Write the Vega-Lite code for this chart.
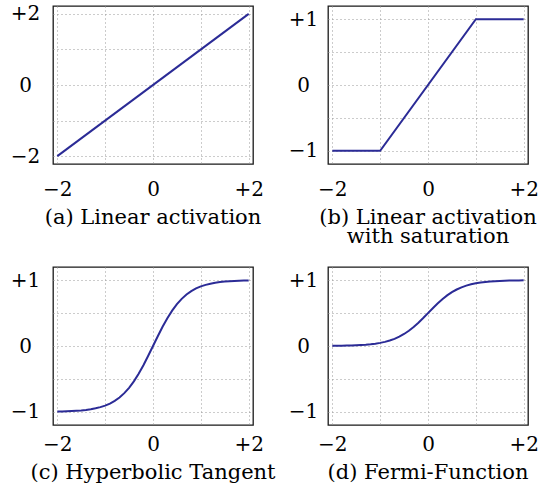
{
  "$schema": "https://vega.github.io/schema/vega-lite/v6.json",
  "padding": {"left": 9, "top": 3, "right": 0, "bottom": 0},
  "background": "white",
  "datasets": {
    "lin": [{"x": -2, "y": -2}, {"x": 2, "y": 2}],
    "sat": [{"x": -2, "y": -1}, {"x": -1, "y": -1}, {"x": 1, "y": 1}, {"x": 2, "y": 1}],
    "tanh": [
      {"x": -2.0, "y": -0.9951}, {"x": -1.9, "y": -0.9933}, {"x": -1.8, "y": -0.9910}, {"x": -1.7, "y": -0.9879},
      {"x": -1.6, "y": -0.9837}, {"x": -1.5, "y": -0.9780}, {"x": -1.4, "y": -0.9705}, {"x": -1.3, "y": -0.9603},
      {"x": -1.2, "y": -0.9468}, {"x": -1.1, "y": -0.9289}, {"x": -1.0, "y": -0.9051}, {"x": -0.9, "y": -0.8741},
      {"x": -0.8, "y": -0.8337}, {"x": -0.7, "y": -0.7818}, {"x": -0.6, "y": -0.7163}, {"x": -0.5, "y": -0.6351},
      {"x": -0.4, "y": -0.5370}, {"x": -0.3, "y": -0.4218}, {"x": -0.2, "y": -0.2913}, {"x": -0.1, "y": -0.1489},
      {"x": 0.0, "y": 0.0},
      {"x": 0.1, "y": 0.1489}, {"x": 0.2, "y": 0.2913}, {"x": 0.3, "y": 0.4218}, {"x": 0.4, "y": 0.5370},
      {"x": 0.5, "y": 0.6351}, {"x": 0.6, "y": 0.7163}, {"x": 0.7, "y": 0.7818}, {"x": 0.8, "y": 0.8337},
      {"x": 0.9, "y": 0.8741}, {"x": 1.0, "y": 0.9051}, {"x": 1.1, "y": 0.9289}, {"x": 1.2, "y": 0.9468},
      {"x": 1.3, "y": 0.9603}, {"x": 1.4, "y": 0.9705}, {"x": 1.5, "y": 0.9780}, {"x": 1.6, "y": 0.9837},
      {"x": 1.7, "y": 0.9879}, {"x": 1.8, "y": 0.9910}, {"x": 1.9, "y": 0.9933}, {"x": 2.0, "y": 0.9951}
    ],
    "fermi": [
      {"x": -2.0, "y": 0.0025}, {"x": -1.9, "y": 0.0033}, {"x": -1.8, "y": 0.0045}, {"x": -1.7, "y": 0.0060},
      {"x": -1.6, "y": 0.0081}, {"x": -1.5, "y": 0.0110}, {"x": -1.4, "y": 0.0147}, {"x": -1.3, "y": 0.0198},
      {"x": -1.2, "y": 0.0266}, {"x": -1.1, "y": 0.0355}, {"x": -1.0, "y": 0.0474}, {"x": -0.9, "y": 0.0630},
      {"x": -0.8, "y": 0.0832}, {"x": -0.7, "y": 0.1091}, {"x": -0.6, "y": 0.1418}, {"x": -0.5, "y": 0.1824},
      {"x": -0.4, "y": 0.2315}, {"x": -0.3, "y": 0.2891}, {"x": -0.2, "y": 0.3543}, {"x": -0.1, "y": 0.4255},
      {"x": 0.0, "y": 0.5},
      {"x": 0.1, "y": 0.5745}, {"x": 0.2, "y": 0.6457}, {"x": 0.3, "y": 0.7109}, {"x": 0.4, "y": 0.7685},
      {"x": 0.5, "y": 0.8176}, {"x": 0.6, "y": 0.8582}, {"x": 0.7, "y": 0.8909}, {"x": 0.8, "y": 0.9168},
      {"x": 0.9, "y": 0.9370}, {"x": 1.0, "y": 0.9526}, {"x": 1.1, "y": 0.9645}, {"x": 1.2, "y": 0.9734},
      {"x": 1.3, "y": 0.9802}, {"x": 1.4, "y": 0.9853}, {"x": 1.5, "y": 0.9890}, {"x": 1.6, "y": 0.9919},
      {"x": 1.7, "y": 0.9940}, {"x": 1.8, "y": 0.9955}, {"x": 1.9, "y": 0.9967}, {"x": 2.0, "y": 0.9975}
    ]
  },
  "columns": 2,
  "bounds": "flush",
  "spacing": {"row": 103, "column": 75},
  "concat": [
    {
      "width": 200, "height": 158,
      "data": {"name": "lin"},
      "title": {"text": "(a) Linear activation", "offset": 8},
      "mark": {"type": "line", "color": "#2b2b96", "strokeWidth": 2, "clip": true},
      "encoding": {
        "x": {"field": "x", "type": "quantitative", "scale": {"domain": [-2.09, 2.09], "nice": false, "zero": false},
              "axis": {"values": [-2, -1, 0, 1, 2], "labelPadding": 31, "labelExpr": "datum.value == 0 ? '0' : datum.value == 2 ? '+2' : datum.value == -2 ? '−2' : ''"}},
        "y": {"field": "y", "type": "quantitative", "scale": {"domain": [-2.22, 2.22], "nice": false, "zero": false},
              "axis": {"values": [-2, -1, 0, 1, 2], "labelPadding": 28, "labelExpr": "datum.value == 0 ? '0' : datum.value == 2 ? '+2' : datum.value == -2 ? '−2' : ''"}}
      }
    },
    {
      "width": 200, "height": 158,
      "data": {"name": "sat"},
      "title": {"text": ["(b) Linear activation", "\u00a0\u00a0with saturation"], "offset": 8, "lineHeight": 19},
      "mark": {"type": "line", "color": "#2b2b96", "strokeWidth": 2, "clip": true},
      "encoding": {
        "x": {"field": "x", "type": "quantitative", "scale": {"domain": [-2.09, 2.09], "nice": false, "zero": false},
              "axis": {"values": [-2, -1, 0, 1, 2], "labelPadding": 31, "labelExpr": "datum.value == 0 ? '0' : datum.value == 2 ? '+2' : datum.value == -2 ? '−2' : ''"}},
        "y": {"field": "y", "type": "quantitative", "scale": {"domain": [-1.2, 1.2], "nice": false, "zero": false},
              "axis": {"values": [-1, -0.5, 0, 0.5, 1], "labelPadding": 25, "labelExpr": "datum.value == 0 ? '0' : datum.value == 1 ? '+1' : datum.value == -1 ? '−1' : ''"}}
      }
    },
    {
      "width": 200, "height": 158,
      "data": {"name": "tanh"},
      "title": {"text": "(c) Hyperbolic Tangent", "offset": 8},
      "mark": {"type": "line", "color": "#2b2b96", "strokeWidth": 2, "clip": true},
      "encoding": {
        "x": {"field": "x", "type": "quantitative", "scale": {"domain": [-2.09, 2.09], "nice": false, "zero": false},
              "axis": {"values": [-2, -1, 0, 1, 2], "labelPadding": 25, "labelExpr": "datum.value == 0 ? '0' : datum.value == 2 ? '+2' : datum.value == -2 ? '−2' : ''"}},
        "y": {"field": "y", "type": "quantitative", "scale": {"domain": [-1.2, 1.2], "nice": false, "zero": false},
              "axis": {"values": [-1, -0.5, 0, 0.5, 1], "labelPadding": 28, "labelExpr": "datum.value == 0 ? '0' : datum.value == 1 ? '+1' : datum.value == -1 ? '−1' : ''"}}
      }
    },
    {
      "width": 200, "height": 158,
      "data": {"name": "fermi"},
      "title": {"text": "(d) Fermi-Function", "offset": 8},
      "mark": {"type": "line", "color": "#2b2b96", "strokeWidth": 2, "clip": true},
      "encoding": {
        "x": {"field": "x", "type": "quantitative", "scale": {"domain": [-2.09, 2.09], "nice": false, "zero": false},
              "axis": {"values": [-2, -1, 0, 1, 2], "labelPadding": 25, "labelExpr": "datum.value == 0 ? '0' : datum.value == 2 ? '+2' : datum.value == -2 ? '−2' : ''"}},
        "y": {"field": "y", "type": "quantitative", "scale": {"domain": [-1.2, 1.2], "nice": false, "zero": false},
              "axis": {"values": [-1, -0.5, 0, 0.5, 1], "labelPadding": 25, "labelExpr": "datum.value == 0 ? '0' : datum.value == 1 ? '+1' : datum.value == -1 ? '−1' : ''"}}
      }
    }
  ],
  "config": {
    "font": "DejaVu Serif",
    "view": {"stroke": "#1a1a1a", "strokeWidth": 1.3},
    "axis": {
      "grid": true, "gridColor": "#999999", "gridDash": [1, 3], "gridWidth": 1,
      "domain": false, "ticks": false, "title": null,
      "labelFont": "DejaVu Serif", "labelFontSize": 20, "labelColor": "#000000",
      "labelOverlap": false, "labelFlush": false, "labelBound": false
    },
    "axisX": {"labelBaseline": "alphabetic"},
    "axisY": {"labelAlign": "center", "labelBaseline": "middle"},
    "title": {"font": "DejaVu Serif", "fontSize": 21, "fontWeight": "normal", "color": "#000000", "orient": "bottom", "anchor": "middle"}
  }
}
